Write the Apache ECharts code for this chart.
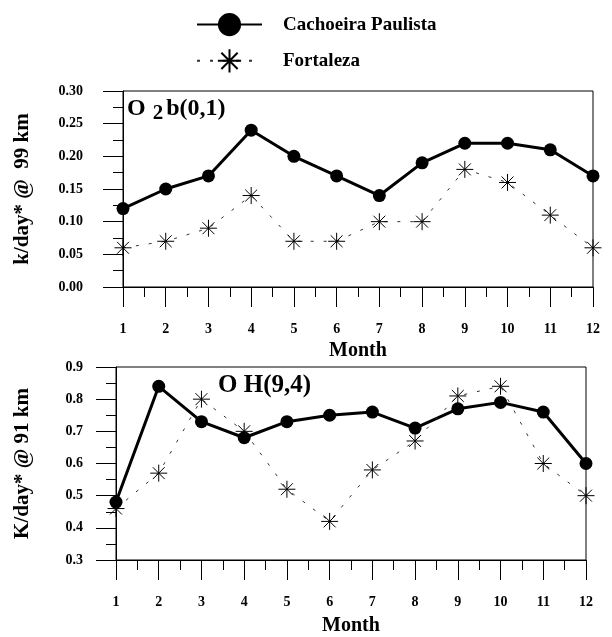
<!DOCTYPE html>
<html>
<head>
<meta charset="utf-8">
<script src="https://cdn.jsdelivr.net/npm/echarts@6/dist/echarts.min.js"></script>
<style>
  html, body { margin: 0; padding: 0; background: #fff; }
  #chart { width: 612px; height: 637px; }
</style>
</head>
<body>
<div id="chart"></div>
<script>
var months = [1, 2, 3, 4, 5, 6, 7, 8, 9, 10, 11, 12];
var seriesNames = ['Cachoeira Paulista', 'Fortaleza'];
// O2b(0,1) @ 99 km
var cachoeiraO2 = [0.12, 0.15, 0.17, 0.24, 0.20, 0.17, 0.14, 0.19, 0.22, 0.22, 0.21, 0.17];
var fortalezaO2 = [0.06, 0.07, 0.09, 0.14, 0.07, 0.07, 0.10, 0.10, 0.18, 0.16, 0.11, 0.06];
// OH(9,4) @ 91 km
var cachoeiraOH = [0.48, 0.84, 0.73, 0.68, 0.73, 0.75, 0.76, 0.71, 0.77, 0.79, 0.76, 0.60];
var fortalezaOH = [0.46, 0.57, 0.80, 0.70, 0.52, 0.42, 0.58, 0.67, 0.81, 0.84, 0.60, 0.50];

var font = "'Liberation Serif', 'Times New Roman', serif";
var starPath = 'path://M0,10L20,10M10,0L10,20M3,3L17,17M17,3L3,17';

function pairs(vals) {
  return months.map(function (m, i) { return [m, vals[i]]; });
}

function xAxisCfg(gridIndex, gap) {
  return {
    type: 'value', gridIndex: gridIndex, min: 1, max: 12, interval: 1,
    name: 'Month', nameLocation: 'middle', nameGap: gap,
    nameTextStyle: { fontFamily: font, fontWeight: 'bold', fontSize: 20, color: '#000' },
    axisLine: { lineStyle: { color: '#000', width: 1 } },
    axisTick: { length: 20, lineStyle: { color: '#000' } },
    minorTick: { show: true, splitNumber: 2, length: 10, lineStyle: { color: '#000' } },
    splitLine: { show: false },
    axisLabel: { margin: 35, color: '#000', fontFamily: font, fontWeight: 'bold', fontSize: 14 }
  };
}

function yAxisCfg(gridIndex, min, max, step, digits, name, gap, margin) {
  return {
    type: 'value', gridIndex: gridIndex, min: min, max: max, interval: step,
    name: name, nameLocation: 'middle', nameGap: gap,
    nameTextStyle: { fontFamily: font, fontWeight: 'bold', fontSize: 21, color: '#000' },
    axisLine: { show: true, lineStyle: { color: '#000', width: 1 } },
    axisTick: { show: true, length: 20, lineStyle: { color: '#000' } },
    minorTick: { show: true, splitNumber: 2, length: 10, lineStyle: { color: '#000' } },
    splitLine: { show: false },
    axisLabel: {
      margin: margin, color: '#000', fontFamily: font, fontWeight: 'bold', fontSize: 14,
      formatter: function (v) { return v.toFixed(digits); }
    }
  };
}

function solid(name, idx, vals) {
  return {
    name: name, type: 'line', xAxisIndex: idx, yAxisIndex: idx, data: pairs(vals),
    symbol: 'circle', symbolSize: 13, z: 3,
    lineStyle: { color: '#000', width: 3 },
    itemStyle: { color: '#000' }
  };
}

function dotted(name, idx, vals) {
  return {
    name: name, type: 'line', xAxisIndex: idx, yAxisIndex: idx, data: pairs(vals),
    symbol: starPath, symbolSize: 17, z: 4,
    lineStyle: { color: '#333', width: 1, type: [3, 10] },
    itemStyle: { color: '#000', borderColor: '#000', borderWidth: 1 }
  };
}

var richLabel = {
  a: { fontFamily: font, fontWeight: 'bold', fontSize: 24, color: '#000', lineHeight: 24, verticalAlign: 'top' },
  w: { fontFamily: font, fontWeight: 'bold', fontSize: 25, color: '#000', lineHeight: 24, verticalAlign: 'top' },
  s: { fontFamily: font, fontWeight: 'bold', fontSize: 21, color: '#000', lineHeight: 24, verticalAlign: 'top', padding: [6, 3, 0, 7] }
};

var chart = echarts.init(document.getElementById('chart'));
chart.setOption({
  animation: false,
  backgroundColor: '#fff',
  title: [
    { text: '{a|O}{s|2}{a|b(0,1)}', left: 127, top: 97, padding: 0, textStyle: { rich: richLabel } },
    { text: '{w|O H(9,4)}', left: 218, top: 373, padding: 0, textStyle: { rich: richLabel } }
  ],
  legend: {
    data: seriesNames, orient: 'vertical', left: 191, top: 8,
    itemWidth: 65, itemHeight: 29, itemGap: 12,
    textStyle: { fontFamily: font, fontWeight: 'bold', fontSize: 19, color: '#000', padding: [0, 0, 0, 16] }
  },
  grid: [
    { left: 123, right: 19, top: 91, height: 196, show: true, borderColor: '#000', borderWidth: 1 },
    { left: 116, right: 26, top: 367, height: 195, show: true, borderColor: '#000', borderWidth: 1 }
  ],
  xAxis: [xAxisCfg(0, 54), xAxisCfg(1, 56)],
  yAxis: [
    yAxisCfg(0, 0, 0.3, 0.05, 2, 'k/day* @  99 km', 90, 40),
    yAxisCfg(1, 0.3, 0.9, 0.1, 1, 'K/day* @ 91 km', 83, 33)
  ],
  series: [
    solid(seriesNames[0], 0, cachoeiraO2),
    dotted(seriesNames[1], 0, fortalezaO2),
    solid(seriesNames[0], 1, cachoeiraOH),
    dotted(seriesNames[1], 1, fortalezaOH)
  ]
});
</script>
</body>
</html>
